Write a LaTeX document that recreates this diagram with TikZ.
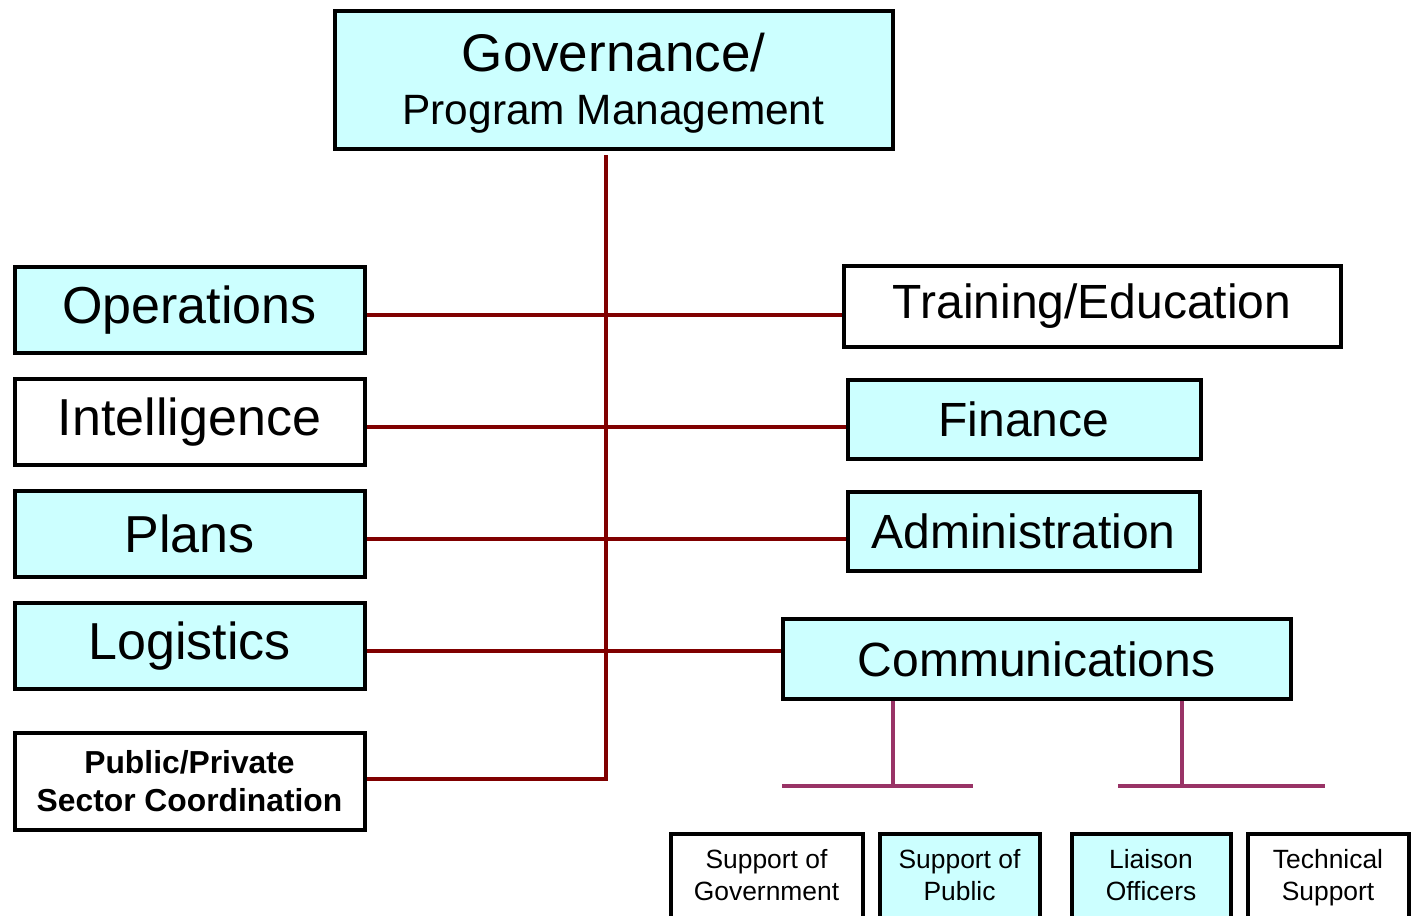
\documentclass[tikz,border=0pt]{standalone}
\usepackage{fontspec}
\setmainfont{Liberation Sans}
\usepackage{xcolor}
\definecolor{ColFill}{RGB}{204,255,255}
\definecolor{ColLine}{RGB}{128,0,0}
\definecolor{ColSub}{RGB}{153,51,102}
\usepackage{tikz}
\tikzstyle{Box}=[draw=black,line width=2pt,fill=white,inner sep=0pt,
align=center]
\tikzstyle{BoxC}=[Box,fill=ColFill]
\tikzstyle{Big}=[font=\fontsize{26}{30}\selectfont]
\tikzstyle{Mid}=[font=\fontsize{24}{28}\selectfont]
\tikzstyle{Small}=[font=\fontsize{13.2}{16}\selectfont,anchor=north,
inner ysep=8pt]
\tikzstyle{Edge}=[draw=ColLine,line width=2pt]
\tikzstyle{EdgeC}=[draw=ColSub,line width=1.8pt]
\newcommand{\Cut}{\rule[-30pt]{0pt}{1pt}}

\begin{document}
\begin{tikzpicture}[x=0.5pt,y=-0.5pt]
        \useasboundingbox(0,0)rectangle(1416,915);
        \clip(0,0)rectangle(1416,915);
        % top box
        \node[BoxC,minimum width=279pt,minimum height=68.5pt,
            font=\fontsize{21.2}{26.5}\selectfont](gov)at(613.5,80)
            {{\fontsize{26.5}{26.5}\selectfont\rule{0pt}{22.5pt}Governance/}\\Program Management};
        % left column
        \node[BoxC,Big,minimum width=175pt,minimum height=43pt](ops)
            at(189.5,310){Operations};
        \node[Box,Big,minimum width=175pt,minimum height=43pt](intel)
            at(189.5,422){Intelligence};
        \node[BoxC,Big,minimum width=175pt,minimum height=43pt](plans)
            at(189.5,534){Plans};
        \node[BoxC,Big,minimum width=175pt,minimum height=43pt](logi)
            at(189.5,646){Logistics};
        \node[Box,minimum width=175pt,minimum height=48.5pt,
            font=\fontsize{15.9}{19}\selectfont\bfseries](pub)
            at(189.5,781){Public/Private\\Sector Coordination};
        % right column
        \node[Box,Mid,minimum width=248.5pt,minimum height=40.5pt](train)
            at(1092,306.5){Training/Education};
        \node[BoxC,Mid,minimum width=176.5pt,minimum height=39.5pt](fin)
            at(1024,419.5){Finance};
        \node[BoxC,Mid,minimum width=176pt,minimum height=39.5pt](admin)
            at(1023.5,531.5){Administration};
        \node[BoxC,Mid,minimum width=254pt,minimum height=40pt](comm)
            at(1036.5,659){Communications};
        % communications sub units
        \node[Box,Small,minimum width=96pt](gov2)
            at(766.5,831.5){Support of\\Government\Cut};
        \node[BoxC,Small,minimum width=80pt](pub2)
            at(959.5,831.5){Support of\\Public\Cut};
        \node[BoxC,Small,minimum width=79.5pt](liai)
            at(1151,831.5){Liaison\\Officers\Cut};
        \node[Box,Small,minimum width=80.5pt](tech)
            at(1328,831.5){Technical\\Support\Cut};
        % trunk and branches
        \coordinate(top)at(606,155);
        \draw[Edge](top)|-([yshift=1pt]pub.east);
        \draw[Edge]([yshift=-2.5pt]ops.east)--([yshift=-2.5pt]ops.east-|train.west);
        \draw[Edge]([yshift=-2.5pt]intel.east)--([yshift=-2.5pt]intel.east-|fin.west);
        \draw[Edge]([yshift=-2.5pt]plans.east)--([yshift=-2.5pt]plans.east-|admin.west);
        \draw[Edge]([yshift=-2.5pt]logi.east)--([yshift=-2.5pt]logi.east-|comm.west);
        % sub unit bars
        \coordinate(barL)at(893,786);
        \coordinate(barR)at(1182,786);
        \draw[EdgeC](barL|-comm.south)--(barL);
        \draw[EdgeC](782,786)--(973,786);
        \draw[EdgeC](barR|-comm.south)--(barR);
        \draw[EdgeC](1118,786)--(1325,786);
    \end{tikzpicture}
\end{document}
